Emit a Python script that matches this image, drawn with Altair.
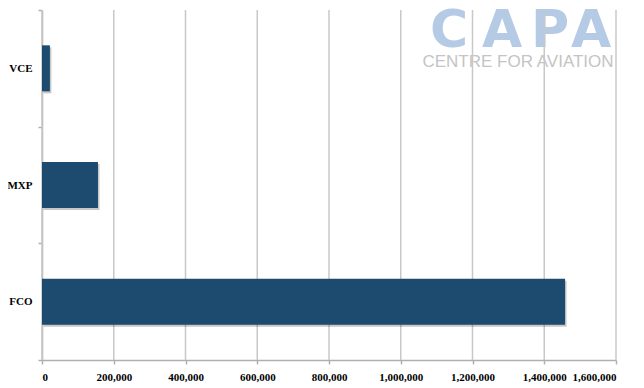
import altair as alt
import pandas as pd

airports = ["VCE", "MXP", "FCO"]
values = [22000, 156000, 1458000]
x_ticks = [0, 200000, 400000, 600000, 800000, 1000000, 1200000, 1400000, 1600000]

df = pd.DataFrame({"airport": airports, "value": values})
ticks_df = pd.DataFrame({"t": x_ticks})
one = pd.DataFrame({"a": [0]})

xscale = alt.Scale(domain=[0, 1600000], nice=False, zero=True)
yscale = alt.Scale(domain=airports, paddingInner=0, paddingOuter=0)

x_axis = alt.Axis(values=x_ticks, format=",d", grid=False,
                  domainColor="#b0b0b0", tickColor="#b0b0b0",
                  tickSize=4, labelPadding=7, title=None)
y_axis = alt.Axis(tickBand="extent", domainColor="#b0b0b0",
                  tickColor="#b0b0b0", tickSize=4, labelPadding=6,
                  grid=False, title=None)

LOGO_BLUE = "#b5cae4"
logo_letters = [("C", 407), ("A", 460), ("P", 508), ("A", 549)]
logo = [
    alt.Chart(one).mark_text(text=ch, font="DejaVu Sans", fontWeight="bold",
                             fontSize=52, color=LOGO_BLUE, align="center",
                             baseline="alphabetic").encode(x=alt.value(px), y=alt.value(37))
    for ch, px in logo_letters
]
logo_sub = alt.Chart(one).mark_text(
    text="CENTRE FOR AVIATION", font="Liberation Sans", fontSize=17,
    color="#c4c4c4", align="center", baseline="alphabetic"
).encode(x=alt.value(476), y=alt.value(57))

grid = alt.Chart(ticks_df).mark_rule(color="#c8c8c8", strokeWidth=1.5).encode(
    x=alt.X("t:Q", scale=xscale, axis=x_axis)
)

shadow = alt.Chart(df).mark_bar(height=46, color="#000000", opacity=0.22,
                                xOffset=1.5, yOffset=2).encode(
    x=alt.X("value:Q", scale=xscale, axis=x_axis),
    y=alt.Y("airport:N", scale=yscale, sort=airports, axis=y_axis),
)

bars = alt.Chart(df).mark_bar(height=46, color="#1d4a6f").encode(
    x=alt.X("value:Q", scale=xscale, axis=x_axis),
    y=alt.Y("airport:N", scale=yscale, sort=airports, axis=y_axis),
)

chart = alt.layer(*logo, logo_sub, grid, shadow, bars).properties(
    width=574, height=350,
    autosize=alt.AutoSizeParams(type="none"),
    padding={"left": 34, "top": 2, "right": 12, "bottom": 26},
).configure_view(stroke=None).configure_axis(
    labelFont="Liberation Serif", labelFontWeight="bold", labelFontSize=11,
    labelColor="#000000", domainWidth=1.5, tickWidth=1.5
)

chart.save("out.html", embed_options={"renderer": "svg", "actions": False})
